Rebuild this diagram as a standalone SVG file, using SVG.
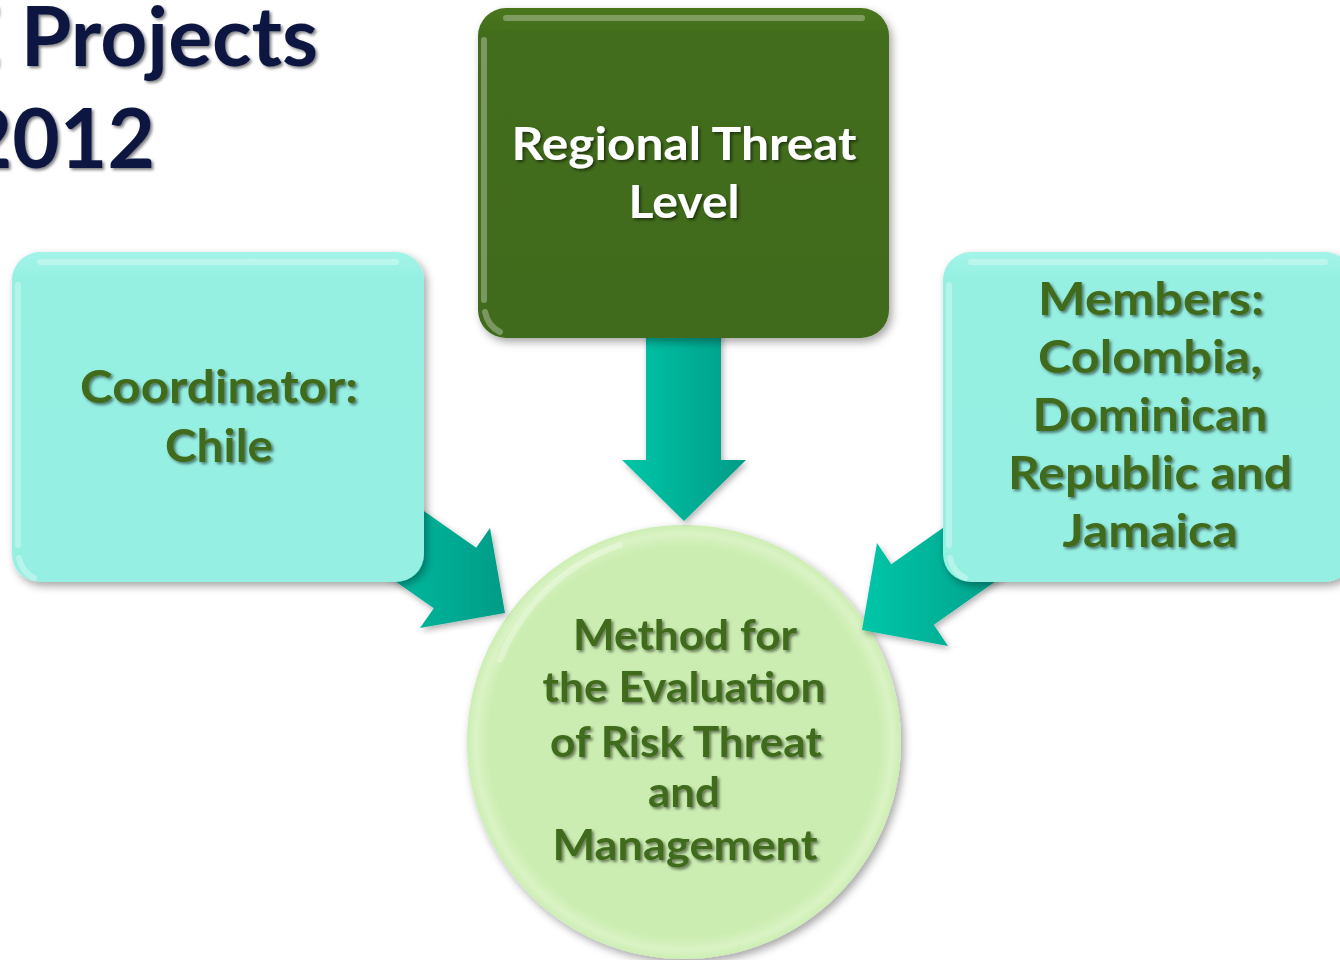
<svg xmlns="http://www.w3.org/2000/svg" width="1340" height="960" viewBox="0 0 1340 960">
  <defs>
    <style>
      .title { font-family: Lato, "Open Sans", "Liberation Sans", sans-serif; font-weight: bold; fill: #0c1840; font-size: 82px; }
      .lbl { font-family: Lato, "Open Sans", "Liberation Sans", sans-serif; font-weight: bold; text-anchor: middle; }
      .lblg { fill: #416b1c; font-size: 46px; }
      .lblw { fill: #ffffff; font-size: 46px; }
      .lblc { fill: #416b1c; font-size: 42px; }
      .arrow { fill: url(#arrowGrad); }
      .gloss { fill: none; stroke: #ffffff; stroke-opacity: 0.3; stroke-width: 6; stroke-linecap: round; }
    </style>
    <linearGradient id="arrowGrad" x1="0" y1="0" x2="1" y2="0">
      <stop offset="0" stop-color="#00c6a8"/>
      <stop offset="1" stop-color="#009c87"/>
    </linearGradient>
    <linearGradient id="darkGrad" x1="0" y1="0" x2="0" y2="1">
      <stop offset="0" stop-color="#4a761f"/>
      <stop offset="0.08" stop-color="#426d1b"/>
      <stop offset="1" stop-color="#416b1b"/>
    </linearGradient>
    <linearGradient id="lightGrad" x1="0" y1="0" x2="0" y2="1">
      <stop offset="0" stop-color="#a4f4e8"/>
      <stop offset="0.08" stop-color="#95f0e2"/>
      <stop offset="1" stop-color="#95efe2"/>
    </linearGradient>
    <radialGradient id="circGrad" cx="0.5" cy="0.5" r="0.5">
      <stop offset="0" stop-color="#cbedb1"/>
      <stop offset="0.9" stop-color="#cbedb1"/>
      <stop offset="0.96" stop-color="#daf3c4"/>
      <stop offset="1" stop-color="#cdeeb4"/>
    </radialGradient>
    <filter id="boxShadow" x="-10%" y="-10%" width="125%" height="125%">
      <feDropShadow dx="3" dy="4" stdDeviation="4" flood-color="#000000" flood-opacity="0.35"/>
    </filter>
    <filter id="arrowShadow" x="-20%" y="-20%" width="140%" height="140%">
      <feDropShadow dx="2" dy="3" stdDeviation="3" flood-color="#000000" flood-opacity="0.3"/>
    </filter>
    <filter id="textShadow" x="-10%" y="-20%" width="120%" height="150%">
      <feDropShadow dx="2" dy="2" stdDeviation="1.5" flood-color="#000000" flood-opacity="0.5"/>
    </filter>
  </defs>

  <rect width="1340" height="960" fill="#ffffff"/>

  <g id="title">
    <text class="title" x="318" y="66" text-anchor="end" filter="url(#textShadow)">E Projects</text>
    <text class="title" x="155" y="168" text-anchor="end" filter="url(#textShadow)">2012</text>
  </g>

  <g id="method">
    <circle cx="684" cy="742" r="217" fill="url(#circGrad)" filter="url(#boxShadow)"/>
    <path class="gloss" d="M 500 660 A 200 200 0 0 1 620 545" stroke-opacity="0.3"/>
    <g class="lbl lblc" filter="url(#textShadow)">
      <text x="685" y="650" textLength="224" lengthAdjust="spacingAndGlyphs">Method for</text>
      <text x="684" y="702" textLength="283" lengthAdjust="spacingAndGlyphs">the Evaluation</text>
      <text x="686" y="757" textLength="272" lengthAdjust="spacingAndGlyphs">of Risk Threat</text>
      <text x="684" y="807" textLength="72" lengthAdjust="spacingAndGlyphs">and</text>
      <text x="685" y="860" textLength="265" lengthAdjust="spacingAndGlyphs">Management</text>
    </g>
  </g>

  <g id="connectors" filter="url(#arrowShadow)">
    <polygon class="arrow" points="646,330 721,330 721,460 746,460 684,521 622,460 646,460"/>
    <polygon class="arrow" points="386.2,484.7 476.2,547.7 490,528 505,613 420,628 433.8,608.3 343.8,545.3"/>
    <polygon class="arrow" points="981.2,500.9 891.2,564.2 877,543 862,630 948,646 933.8,624.8 1023.8,561.5"/>
  </g>

  <g id="regional">
    <rect x="478" y="8" width="411" height="330" rx="28" ry="28" fill="url(#darkGrad)" filter="url(#boxShadow)"/>
    <path class="gloss" d="M 506 18 L 862 18"/>
    <path class="gloss" d="M 484 40 L 484 300" stroke-opacity="0.15"/>
    <path class="gloss" d="M 485 312 Q 488 326 500 332" stroke-opacity="0.7" stroke-width="5"/>
    <g class="lbl lblw" filter="url(#textShadow)">
      <text x="684" y="160" textLength="345" lengthAdjust="spacingAndGlyphs">Regional Threat</text>
      <text x="684" y="218" textLength="111" lengthAdjust="spacingAndGlyphs">Level</text>
    </g>
  </g>

  <g id="coordinator">
    <rect x="12" y="252" width="412" height="330" rx="28" ry="28" fill="url(#lightGrad)" filter="url(#boxShadow)"/>
    <path class="gloss" d="M 40 262 L 396 262" stroke-opacity="0.6"/>
    <path class="gloss" d="M 18 285 L 18 545" stroke-opacity="0.35"/>
    <path class="gloss" d="M 19 558 Q 22 572 34 578" stroke-opacity="0.9" stroke-width="5"/>
    <g class="lbl lblg" filter="url(#textShadow)">
      <text x="219" y="403" textLength="278" lengthAdjust="spacingAndGlyphs">Coordinator:</text>
      <text x="219" y="462" textLength="108" lengthAdjust="spacingAndGlyphs">Chile</text>
    </g>
  </g>

  <g id="members">
    <rect x="943" y="252" width="410" height="330" rx="28" ry="28" fill="url(#lightGrad)" filter="url(#boxShadow)"/>
    <path class="gloss" d="M 971 262 L 1325 262" stroke-opacity="0.6"/>
    <path class="gloss" d="M 949 285 L 949 545" stroke-opacity="0.35"/>
    <path class="gloss" d="M 950 558 Q 953 572 965 578" stroke-opacity="0.9" stroke-width="5"/>
    <g class="lbl lblg" filter="url(#textShadow)">
      <text x="1151" y="315" textLength="226" lengthAdjust="spacingAndGlyphs">Members:</text>
      <text x="1150" y="373" textLength="224" lengthAdjust="spacingAndGlyphs">Colombia,</text>
      <text x="1150" y="431" textLength="235" lengthAdjust="spacingAndGlyphs">Dominican</text>
      <text x="1150" y="489" textLength="284" lengthAdjust="spacingAndGlyphs">Republic and</text>
      <text x="1150" y="547" textLength="175" lengthAdjust="spacingAndGlyphs">Jamaica</text>
    </g>
  </g>
</svg>
